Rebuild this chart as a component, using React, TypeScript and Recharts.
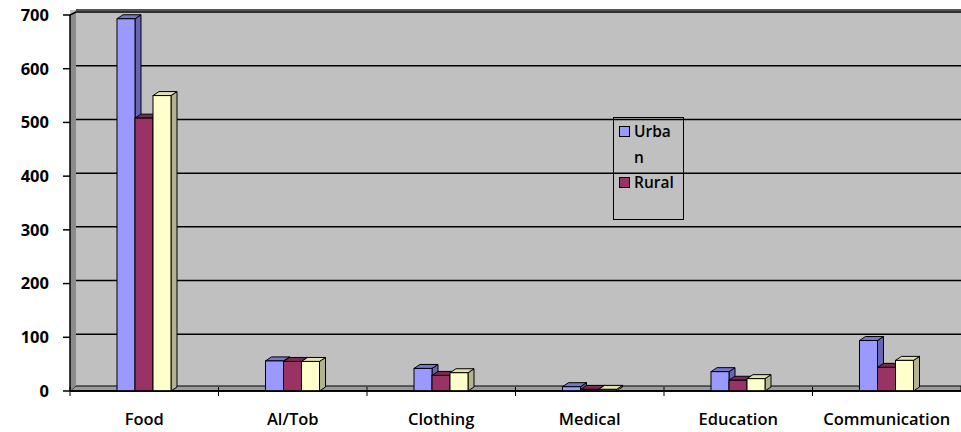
import React from 'react';
import { Bar, BarChart, CartesianGrid, XAxis, YAxis } from 'recharts';

const categories = ['Food', 'Al/Tob', 'Clothing', 'Medical', 'Education', 'Communication'];
const urban = [693, 56, 42, 8, 36, 94];
const rural = [508, 55, 29, 3, 20, 44];
const total = [550, 55, 34, 3, 23, 57];
const yTicks = [0, 100, 200, 300, 400, 500, 600, 700];
const legendNames = ['Urban', 'Rural'];
const legendColors = ['#9999FF', '#993366'];

const data = categories.map((name, i) => ({ name, urban: urban[i], rural: rural[i], total: total[i] }));

const FONT = '"Open Sans", sans-serif';
const DX = 6;
const DY = 4;

function make3D(front: string, side: string, top: string) {
  return (props: any) => {
    const { x, y, width, height } = props;
    if (width == null || height == null || height < 0) return <g />;
    const w = width;
    const h = height;
    return (
      <g>
        <polygon
          points={`${x + w},${y} ${x + w + DX},${y - DY} ${x + w + DX},${y + h - DY} ${x + w},${y + h}`}
          fill={side}
          stroke="#000"
          strokeWidth={1}
        />
        <polygon
          points={`${x},${y} ${x + DX},${y - DY} ${x + w + DX},${y - DY} ${x + w},${y}`}
          fill={top}
          stroke="#000"
          strokeWidth={1}
        />
        <rect x={x} y={y} width={w} height={h} fill={front} stroke="#000" strokeWidth={1} />
      </g>
    );
  };
}

const urbanShape = make3D('#9999FF', '#6666B3', '#7777CC');
const ruralShape = make3D('#993366', '#6B2447', '#7A2952');
const totalShape = make3D('#FFFFCC', '#B3B38F', '#E0E0B0');

function GridLine(props: any) {
  const { x1, x2, y1, y, height } = props;
  const isTop = y != null && Math.abs(y1 - y) < 1;
  const isBottom = y != null && height != null && Math.abs(y1 - (y + height)) < 1;
  return (
    <g>
      {isTop && (
        <g>
          <rect x={x1} y={y1 - 5} width={x2 - x1} height={5} fill="#C0C0C0" />
          <line x1={x1 + DX} y1={y1 - 5} x2={x2} y2={y1 - 5} stroke="#555" strokeWidth={2} />
          <polygon
            points={`${x1},${y1 + 1} ${x1 + DX},${y1 - 4} ${x1 + DX},${y1 + height - 5} ${x1},${y1 + height}`}
            fill="#8C8C8C"
          />
        </g>
      )}
      {isBottom && (
        <polygon
          points={`${x1},${y1} ${x1 + DX},${y1 - 5} ${x2},${y1 - 5} ${x2},${y1}`}
          fill="#9C9C9C"
          stroke="#000"
          strokeWidth={1}
        />
      )}
      {!isBottom && (
        <polyline
          points={`${x1},${y1} ${x1 + DX},${y1 - 3} ${x2},${y1 - 3}`}
          fill="none"
          stroke="#000"
          strokeWidth={1.5}
        />
      )}
      {isBottom && <line x1={x1} y1={y1} x2={x2} y2={y1} stroke="#000" strokeWidth={1.5} />}
    </g>
  );
}

function XTick(props: any) {
  const { x, y, payload, width } = props;
  const band = width ? width / categories.length : 148.5;
  return (
    <g>
      <line x1={x - band / 2} y1={y - 4} x2={x - band / 2} y2={y + 5} stroke="#000" strokeWidth={1} />
      <text
        x={x}
        y={y + 34}
        textAnchor="middle"
        fontFamily={FONT}
        fontWeight={600}
        fontSize={16.5}
        fill="#000"
      >
        {payload.value}
      </text>
    </g>
  );
}

function LegendBox() {
  return (
    <div
      style={{
        position: 'absolute',
        left: 613,
        top: 117,
        width: 71,
        height: 103,
        border: '1px solid #000',
        boxSizing: 'border-box',
        paddingTop: 1,
        fontFamily: FONT,
        fontSize: 15.5,
        fontWeight: 600,
        color: '#000',
      }}
    >
      {legendNames.map((name, i) => (
        <div key={name} style={{ display: 'flex', alignItems: 'flex-start', lineHeight: '25.5px' }}>
          <span
            style={{
              display: 'inline-block',
              flex: 'none',
              width: 9,
              height: 9,
              marginTop: 7,
              marginLeft: 5,
              marginRight: 4,
              background: legendColors[i],
              border: '1.5px solid #000',
            }}
          />
          <span style={{ display: 'inline-block', width: 42, wordBreak: 'break-all' }}>{name}</span>
        </div>
      ))}
    </div>
  );
}

export default function App() {
  return (
    <div
      style={{
        position: 'fixed',
        left: 0,
        top: 0,
        width: 961,
        height: 432,
        overflow: 'hidden',
        background: '#fff',
      }}
    >
      <BarChart
        width={961}
        height={432}
        data={data}
        margin={{ top: 15, right: 0, left: 0, bottom: 0 }}
        barGap={0}
        barSize={18}
      >
        <CartesianGrid vertical={false} fill="#C0C0C0" horizontal={(p: any) => <GridLine {...p} />} />
        <XAxis
          dataKey="name"
          height={41}
          tickLine={false}
          tickSize={0}
          tickMargin={0}
          axisLine={{ stroke: '#000', strokeWidth: 1.5 }}
          tick={<XTick />}
          interval={0}
        />
        <YAxis
          width={70}
          domain={[0, 700]}
          ticks={yTicks}
          interval={0}
          tickSize={7}
          tickMargin={14}
          axisLine={{ stroke: '#000', strokeWidth: 1.5 }}
          tickLine={{ stroke: '#000', strokeWidth: 1.5 }}
          tick={{ fill: '#000', fontFamily: FONT, fontWeight: 700, fontSize: 16.5 }}
        />
        <Bar dataKey="urban" fill="#9999FF" shape={urbanShape} isAnimationActive={false} />
        <Bar dataKey="rural" fill="#993366" shape={ruralShape} isAnimationActive={false} />
        <Bar dataKey="total" fill="#FFFFCC" shape={totalShape} isAnimationActive={false} />
      </BarChart>
      <LegendBox />
    </div>
  );
}
